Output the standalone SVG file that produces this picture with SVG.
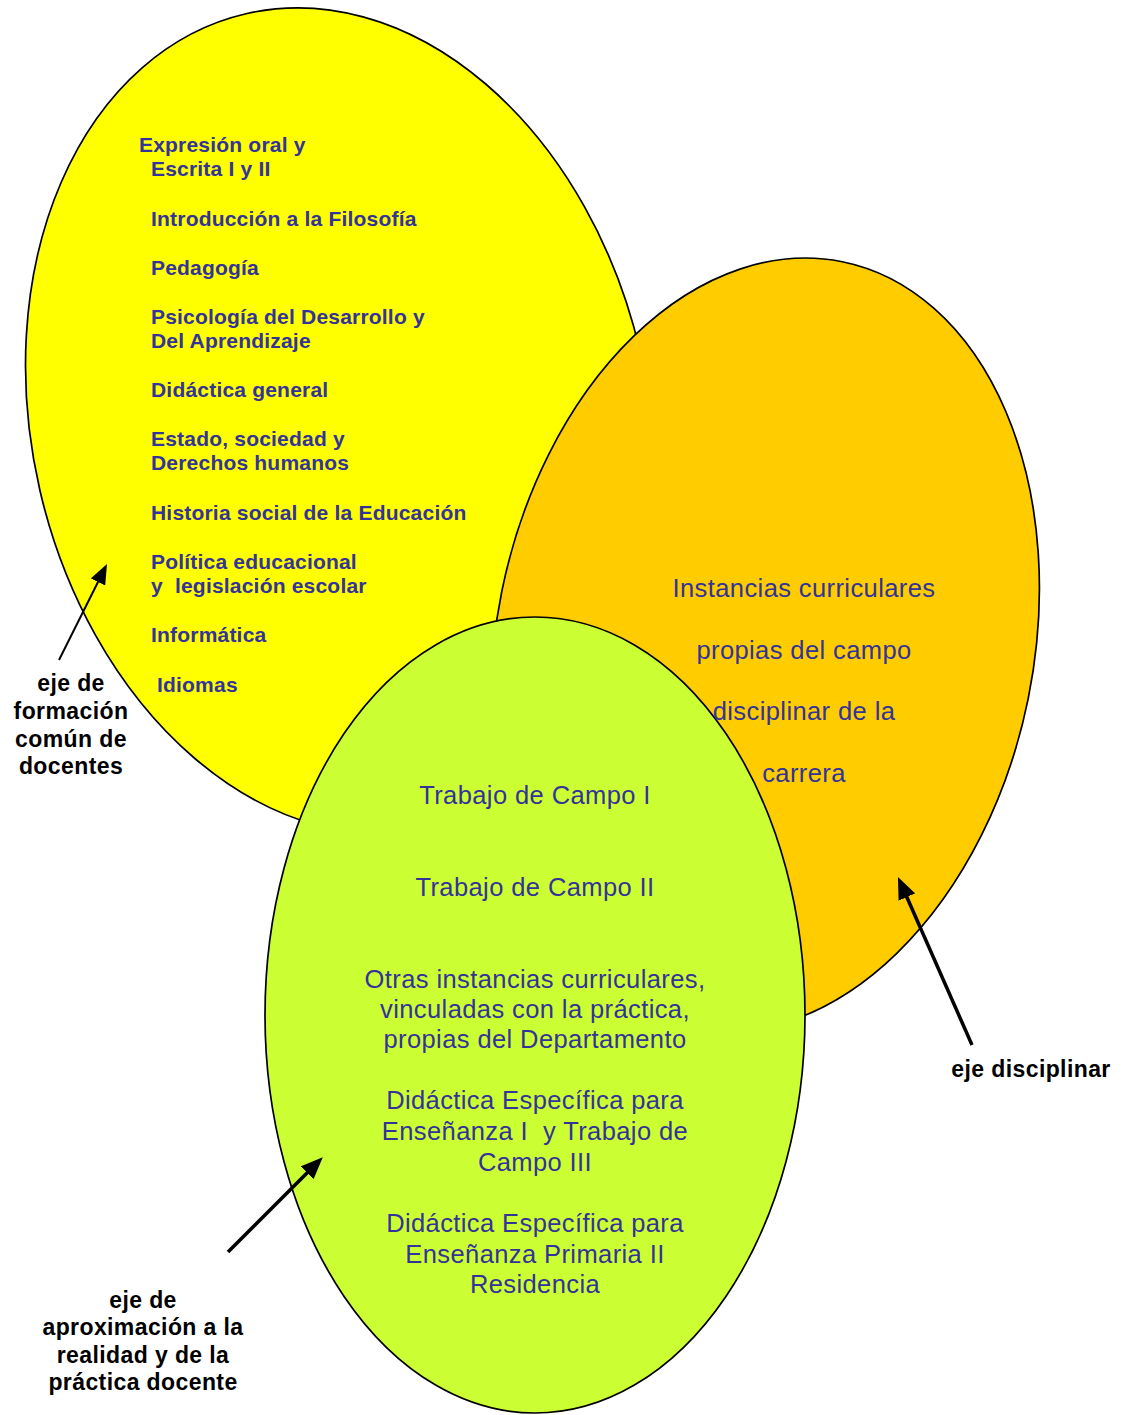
<svg xmlns="http://www.w3.org/2000/svg" width="1123" height="1415" viewBox="0 0 1123 1415">
  <defs>
    <style>
      .shape { stroke: #000; stroke-width: 1.7; }
      .yellow { fill: #FFFF00; }
      .orange { fill: #FFCC00; }
      .green { fill: #CCFF33; }
      text { white-space: pre; font-family: "Liberation Sans", Arial, sans-serif; }
      .list { font-size: 21px; font-weight: bold; fill: #333399; letter-spacing: 0.2px; }
      .big { font-size: 25.5px; fill: #333399; letter-spacing: 0.4px; text-anchor: middle; }
      .lbl { font-size: 23px; font-weight: bold; fill: #000; letter-spacing: 0.4px; text-anchor: middle; }
      .arrow { stroke: #000; fill: none; }
    </style>
    <marker id="headS" viewBox="0 0 20 16" refX="10" refY="8" markerWidth="20" markerHeight="16" markerUnits="userSpaceOnUse" orient="auto">
      <path d="M0,0 L20,8 L0,16 z" fill="#000"/>
    </marker>
    <marker id="headL" viewBox="0 0 22 18" refX="11" refY="9" markerWidth="22" markerHeight="18" markerUnits="userSpaceOnUse" orient="auto">
      <path d="M0,0 L22,9 L0,18 z" fill="#000"/>
    </marker>
  </defs>

  <rect x="0" y="0" width="1123" height="1415" fill="#fff"/>

  <g id="node-formacion-comun">
    <ellipse class="shape yellow" cx="0" cy="0" rx="308" ry="418" transform="translate(340 421) rotate(-13)"/>
    <text class="list" x="139" y="151.5">Expresión oral y</text>
    <text class="list" x="151" y="175.5">Escrita I y II</text>
    <text class="list" x="151" y="225.5">Introducción a la Filosofía</text>
    <text class="list" x="151" y="275">Pedagogía</text>
    <text class="list" x="151" y="324">Psicología del Desarrollo y</text>
    <text class="list" x="151" y="347.5">Del Aprendizaje</text>
    <text class="list" x="151" y="396.5">Didáctica general</text>
    <text class="list" x="151" y="446">Estado, sociedad y</text>
    <text class="list" x="151" y="470">Derechos humanos</text>
    <text class="list" x="151" y="520">Historia social de la Educación</text>
    <text class="list" x="151" y="568.5">Política educacional</text>
    <text class="list" x="151" y="593">y  legislación escolar</text>
    <text class="list" x="151" y="642">Informática</text>
    <text class="list" x="157" y="691.5">Idiomas</text>
  </g>

  <g id="node-disciplinar">
    <ellipse class="shape orange" cx="0" cy="0" rx="268.6" ry="391" transform="translate(765 645) rotate(11.4)"/>
  </g>

  <g id="node-practica">
    <ellipse class="shape green" cx="535" cy="1015" rx="270" ry="398"/>
    <text class="big" x="535" y="804">Trabajo de Campo I</text>
    <text class="big" x="535" y="896">Trabajo de Campo II</text>
    <text class="big" x="535" y="988">Otras instancias curriculares,</text>
    <text class="big" x="535" y="1018">vinculadas con la práctica,</text>
    <text class="big" x="535" y="1048">propias del Departamento</text>
    <text class="big" x="535" y="1109">Didáctica Específica para</text>
    <text class="big" x="535" y="1140">Enseñanza I  y Trabajo de</text>
    <text class="big" x="535" y="1171">Campo III</text>
    <text class="big" x="535" y="1232">Didáctica Específica para</text>
    <text class="big" x="535" y="1263">Enseñanza Primaria II</text>
    <text class="big" x="535" y="1293">Residencia</text>
  </g>

  <g id="node-disciplinar-text">
    <text class="big" x="804" y="597">Instancias curriculares</text>
    <text class="big" x="804" y="659">propias del campo</text>
    <text class="big" x="804" y="720">disciplinar de la</text>
    <text class="big" x="804" y="782">carrera</text>
  </g>

  <g id="label-formacion">
    <text class="lbl" x="71" y="691">eje de</text>
    <text class="lbl" x="71" y="719">formación</text>
    <text class="lbl" x="71" y="747">común de</text>
    <text class="lbl" x="71" y="774">docentes</text>
  </g>
  <g id="label-disciplinar">
    <text class="lbl" x="1031" y="1077">eje disciplinar</text>
  </g>
  <g id="label-practica">
    <text class="lbl" x="143" y="1308">eje de</text>
    <text class="lbl" x="143" y="1335">aproximación a la</text>
    <text class="lbl" x="143" y="1363">realidad y de la</text>
    <text class="lbl" x="143" y="1390">práctica docente</text>
  </g>

  <g id="connectors">
    <line class="arrow" x1="59" y1="660" x2="102.5" y2="573" stroke-width="2" marker-end="url(#headS)"/>
    <line class="arrow" x1="972" y1="1045" x2="902.4" y2="887" stroke-width="3.5" marker-end="url(#headL)"/>
    <line class="arrow" x1="228" y1="1252" x2="315" y2="1165" stroke-width="3.5" marker-end="url(#headL)"/>
  </g>
</svg>
